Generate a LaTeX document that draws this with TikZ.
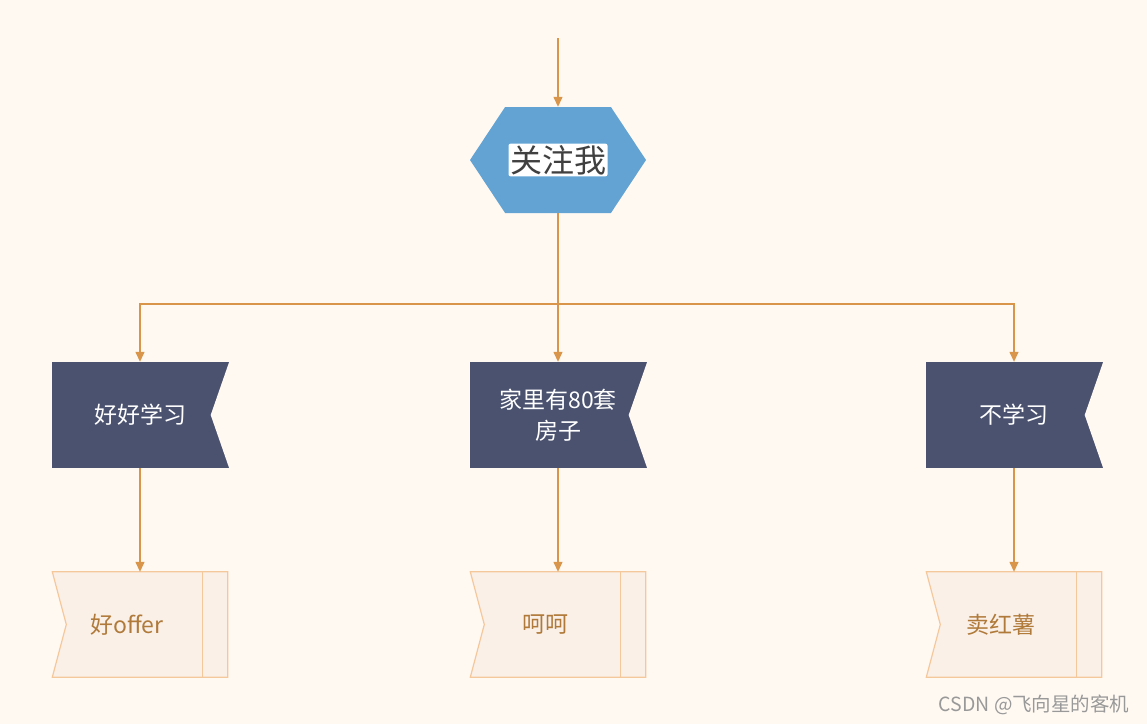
\documentclass[tikz,border=0pt]{standalone}
\usepackage{fontspec}
\setmainfont{Noto Sans CJK SC}
\usetikzlibrary{arrows.meta,positioning,shapes.symbols}
\definecolor{paper}{HTML}{FFF9F2}
\definecolor{sky}{HTML}{62A3D3}
\definecolor{slate}{HTML}{4A5270}
\definecolor{cream}{HTML}{FAF0E8}
\definecolor{peach}{HTML}{F5C89C}
\definecolor{brown}{HTML}{B07A3A}
\definecolor{wire}{HTML}{D9964A}
\definecolor{ink}{HTML}{404040}

\tikzset{
  hexa/.style={shape=signal,signal to=west and east,signal pointer angle=113,fill=sky,draw=none,minimum width=176pt,minimum height=106pt,inner sep=0pt},
  hilite/.style={fill=white,rounded corners=2pt,inner sep=1.5pt,text=ink,font=\fontsize{32}{34}\selectfont},
  choice/.style={rectangle,fill=slate,draw=none,minimum width=177pt,minimum height=106pt,inner sep=0pt,text=white,align=center,font=\fontsize{23}{31}\selectfont},
  result/.style={rectangle,fill=cream,draw=none,minimum width=175pt,minimum height=105pt,inner sep=0pt,text=brown,font=\fontsize{23}{26}\selectfont},
  rim/.style={draw=peach,line width=1.2pt},
  link/.style={draw=wire,line width=1.3pt,-{Triangle[length=10pt,width=9pt]}}
}

\begin{document}
\begin{tikzpicture}[x=1pt,y=-1pt]
  \fill[paper] (0,0) rectangle (1147,724);
  \useasboundingbox (0,0) rectangle (1147,724);

  % top
  \coordinate (start) at (558,38);
  \node[hexa] (focus) at (558,160) {};
  \node[hilite] (focustxt) at (focus.center) {关注我};

  % choices
  \node[choice] (do1) at (140,415) {好好学习};
  \node[choice] (do2) at (558,415) {家里有80套\\房子};
  \node[choice] (do3) at (1014,415) {不学习};
  \foreach \n in {do1,do2,do3}{\fill[paper] ([xshift=0.5pt]\n.north east) -- ([xshift=-18pt]\n.east) -- ([xshift=0.5pt]\n.south east) -- cycle;}

  % outcomes
  \node[result] (end1) at (140,624.5) {好offer\hspace*{26pt}};
  \node[result] (end2) at (558,624.5) {呵呵\hspace*{26pt}};
  \node[result] (end3) at (1014,624.5) {卖红薯\hspace*{26pt}};
  \foreach \n in {end1,end2,end3}{
    \fill[paper] ([xshift=-0.5pt]\n.north west) -- ([xshift=14pt]\n.west) -- ([xshift=-0.5pt]\n.south west) -- cycle;
    \draw[rim] (\n.north west) -- (\n.north east) -- (\n.south east) -- (\n.south west) -- ([xshift=14pt]\n.west) -- cycle;
    \draw[rim] ([xshift=-25pt]\n.north east) -- ([xshift=-25pt]\n.south east);
  }

  \coordinate (split) at (558,304);
  \draw[link] (start) -- (focus.north);
  \draw[link] (focus.south) -- (do2.north);
  \draw[link] (split) -| (do1.north);
  \draw[link] (split) -| (do3.north);
  \foreach \u/\v in {do1/end1,do2/end2,do3/end3}{\draw[link] (\u.south) -- (\v.north);}

  \node[anchor=east,text=gray!80,font=\fontsize{19.5}{21}\selectfont] (mark) at (1133,705) {CSDN @飞向星的客机};
\end{tikzpicture}
\end{document}
